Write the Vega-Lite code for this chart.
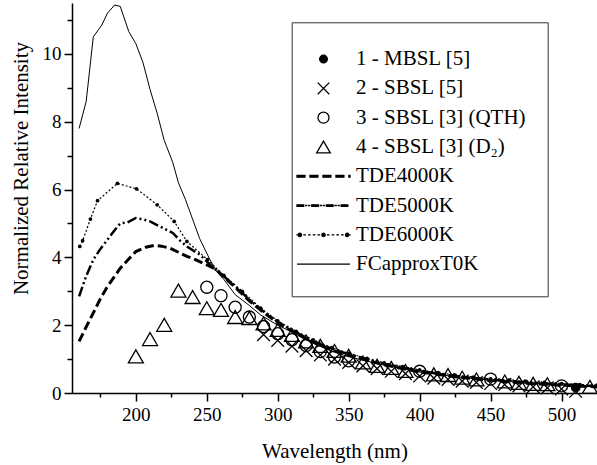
{
 "$schema": "https://vega.github.io/schema/vega-lite/v6.json",
 "width": 525, "height": 390,
 "autosize": {"type": "none"},
 "padding": {"left": 72, "top": 3, "right": 0, "bottom": 72},
 "background": "white",
 "config": {
  "font": "Liberation Serif",
  "view": {"stroke": null},
  "axis": {"grid": false, "domainColor": "black", "domainWidth": 1.5, "tickColor": "black", "tickWidth": 1.5, "labelFont": "Liberation Serif", "labelFontSize": 19, "labelColor": "black", "titleFont": "Liberation Serif", "titleFontSize": 21, "titleFontWeight": "normal", "titleColor": "black"}
 },
 "datasets": {
  "curves": [
   {"series": "FCapproxT0K", "wavelength": 160, "intensity": 7.8},
   {"series": "FCapproxT0K", "wavelength": 165, "intensity": 8.6},
   {"series": "FCapproxT0K", "wavelength": 170, "intensity": 10.5},
   {"series": "FCapproxT0K", "wavelength": 176, "intensity": 10.85},
   {"series": "FCapproxT0K", "wavelength": 180, "intensity": 11.2},
   {"series": "FCapproxT0K", "wavelength": 185, "intensity": 11.44},
   {"series": "FCapproxT0K", "wavelength": 189, "intensity": 11.4},
   {"series": "FCapproxT0K", "wavelength": 195, "intensity": 10.66},
   {"series": "FCapproxT0K", "wavelength": 200, "intensity": 10.3},
   {"series": "FCapproxT0K", "wavelength": 205, "intensity": 9.75},
   {"series": "FCapproxT0K", "wavelength": 210, "intensity": 8.95},
   {"series": "FCapproxT0K", "wavelength": 215, "intensity": 8.25},
   {"series": "FCapproxT0K", "wavelength": 220, "intensity": 7.45},
   {"series": "FCapproxT0K", "wavelength": 226, "intensity": 6.8},
   {"series": "FCapproxT0K", "wavelength": 230, "intensity": 6.2},
   {"series": "FCapproxT0K", "wavelength": 235, "intensity": 5.7},
   {"series": "FCapproxT0K", "wavelength": 245, "intensity": 4.55},
   {"series": "FCapproxT0K", "wavelength": 252, "intensity": 3.95},
   {"series": "FCapproxT0K", "wavelength": 257, "intensity": 3.58},
   {"series": "FCapproxT0K", "wavelength": 262, "intensity": 3.35},
   {"series": "FCapproxT0K", "wavelength": 270, "intensity": 2.9},
   {"series": "FCapproxT0K", "wavelength": 280, "intensity": 2.58},
   {"series": "FCapproxT0K", "wavelength": 288, "intensity": 2.3},
   {"series": "FCapproxT0K", "wavelength": 300, "intensity": 2.0},
   {"series": "FCapproxT0K", "wavelength": 310, "intensity": 1.8},
   {"series": "FCapproxT0K", "wavelength": 323, "intensity": 1.5},
   {"series": "FCapproxT0K", "wavelength": 340, "intensity": 1.2},
   {"series": "FCapproxT0K", "wavelength": 350, "intensity": 1.07},
   {"series": "FCapproxT0K", "wavelength": 375, "intensity": 0.82},
   {"series": "FCapproxT0K", "wavelength": 400, "intensity": 0.62},
   {"series": "FCapproxT0K", "wavelength": 425, "intensity": 0.48},
   {"series": "FCapproxT0K", "wavelength": 450, "intensity": 0.38},
   {"series": "FCapproxT0K", "wavelength": 475, "intensity": 0.3},
   {"series": "FCapproxT0K", "wavelength": 500, "intensity": 0.23},
   {"series": "FCapproxT0K", "wavelength": 525, "intensity": 0.18},

   {"series": "TDE4000K", "wavelength": 160, "intensity": 1.52},
   {"series": "TDE4000K", "wavelength": 165, "intensity": 1.95},
   {"series": "TDE4000K", "wavelength": 170, "intensity": 2.36},
   {"series": "TDE4000K", "wavelength": 175, "intensity": 2.78},
   {"series": "TDE4000K", "wavelength": 180, "intensity": 3.14},
   {"series": "TDE4000K", "wavelength": 189, "intensity": 3.68},
   {"series": "TDE4000K", "wavelength": 195, "intensity": 3.95},
   {"series": "TDE4000K", "wavelength": 200, "intensity": 4.17},
   {"series": "TDE4000K", "wavelength": 207, "intensity": 4.3},
   {"series": "TDE4000K", "wavelength": 213, "intensity": 4.35},
   {"series": "TDE4000K", "wavelength": 218, "intensity": 4.33},
   {"series": "TDE4000K", "wavelength": 224, "intensity": 4.27},
   {"series": "TDE4000K", "wavelength": 230, "intensity": 4.15},
   {"series": "TDE4000K", "wavelength": 236, "intensity": 4.03},
   {"series": "TDE4000K", "wavelength": 242, "intensity": 3.93},
   {"series": "TDE4000K", "wavelength": 248, "intensity": 3.82},
   {"series": "TDE4000K", "wavelength": 257, "intensity": 3.63},
   {"series": "TDE4000K", "wavelength": 262, "intensity": 3.42},
   {"series": "TDE4000K", "wavelength": 270, "intensity": 3.12},
   {"series": "TDE4000K", "wavelength": 280, "intensity": 2.72},
   {"series": "TDE4000K", "wavelength": 290, "intensity": 2.37},
   {"series": "TDE4000K", "wavelength": 300, "intensity": 2.07},
   {"series": "TDE4000K", "wavelength": 310, "intensity": 1.82},
   {"series": "TDE4000K", "wavelength": 320, "intensity": 1.6},
   {"series": "TDE4000K", "wavelength": 330, "intensity": 1.41},
   {"series": "TDE4000K", "wavelength": 340, "intensity": 1.25},
   {"series": "TDE4000K", "wavelength": 350, "intensity": 1.11},
   {"series": "TDE4000K", "wavelength": 375, "intensity": 0.83},
   {"series": "TDE4000K", "wavelength": 400, "intensity": 0.62},
   {"series": "TDE4000K", "wavelength": 425, "intensity": 0.48},
   {"series": "TDE4000K", "wavelength": 450, "intensity": 0.37},
   {"series": "TDE4000K", "wavelength": 475, "intensity": 0.29},
   {"series": "TDE4000K", "wavelength": 500, "intensity": 0.23},
   {"series": "TDE4000K", "wavelength": 525, "intensity": 0.18},

   {"series": "TDE5000K", "wavelength": 160, "intensity": 2.85},
   {"series": "TDE5000K", "wavelength": 165, "intensity": 3.45},
   {"series": "TDE5000K", "wavelength": 170, "intensity": 3.93},
   {"series": "TDE5000K", "wavelength": 175, "intensity": 4.25},
   {"series": "TDE5000K", "wavelength": 180, "intensity": 4.52},
   {"series": "TDE5000K", "wavelength": 185, "intensity": 4.8},
   {"series": "TDE5000K", "wavelength": 189, "intensity": 5.0},
   {"series": "TDE5000K", "wavelength": 194, "intensity": 5.03},
   {"series": "TDE5000K", "wavelength": 200, "intensity": 5.16},
   {"series": "TDE5000K", "wavelength": 205, "intensity": 5.12},
   {"series": "TDE5000K", "wavelength": 210, "intensity": 5.06},
   {"series": "TDE5000K", "wavelength": 217, "intensity": 4.91},
   {"series": "TDE5000K", "wavelength": 226, "intensity": 4.72},
   {"series": "TDE5000K", "wavelength": 231, "intensity": 4.5},
   {"series": "TDE5000K", "wavelength": 236, "intensity": 4.32},
   {"series": "TDE5000K", "wavelength": 245, "intensity": 4.08},
   {"series": "TDE5000K", "wavelength": 255, "intensity": 3.68},
   {"series": "TDE5000K", "wavelength": 262, "intensity": 3.44},
   {"series": "TDE5000K", "wavelength": 270, "intensity": 3.15},
   {"series": "TDE5000K", "wavelength": 280, "intensity": 2.75},
   {"series": "TDE5000K", "wavelength": 290, "intensity": 2.4},
   {"series": "TDE5000K", "wavelength": 300, "intensity": 2.1},
   {"series": "TDE5000K", "wavelength": 310, "intensity": 1.85},
   {"series": "TDE5000K", "wavelength": 320, "intensity": 1.63},
   {"series": "TDE5000K", "wavelength": 330, "intensity": 1.44},
   {"series": "TDE5000K", "wavelength": 340, "intensity": 1.28},
   {"series": "TDE5000K", "wavelength": 350, "intensity": 1.14},
   {"series": "TDE5000K", "wavelength": 375, "intensity": 0.86},
   {"series": "TDE5000K", "wavelength": 400, "intensity": 0.65},
   {"series": "TDE5000K", "wavelength": 425, "intensity": 0.5},
   {"series": "TDE5000K", "wavelength": 450, "intensity": 0.39},
   {"series": "TDE5000K", "wavelength": 475, "intensity": 0.31},
   {"series": "TDE5000K", "wavelength": 500, "intensity": 0.25},
   {"series": "TDE5000K", "wavelength": 525, "intensity": 0.2},

   {"series": "TDE6000K", "wavelength": 160.5, "intensity": 4.32},
   {"series": "TDE6000K", "wavelength": 162.5, "intensity": 4.49},
   {"series": "TDE6000K", "wavelength": 168, "intensity": 5.13},
   {"series": "TDE6000K", "wavelength": 173, "intensity": 5.67},
   {"series": "TDE6000K", "wavelength": 187, "intensity": 6.18},
   {"series": "TDE6000K", "wavelength": 200.5, "intensity": 6.02},
   {"series": "TDE6000K", "wavelength": 215, "intensity": 5.55},
   {"series": "TDE6000K", "wavelength": 227, "intensity": 5.06},
   {"series": "TDE6000K", "wavelength": 236, "intensity": 4.47},
   {"series": "TDE6000K", "wavelength": 250.5, "intensity": 3.93},
   {"series": "TDE6000K", "wavelength": 262, "intensity": 3.47},
   {"series": "TDE6000K", "wavelength": 275, "intensity": 3.0},
   {"series": "TDE6000K", "wavelength": 288, "intensity": 2.5},
   {"series": "TDE6000K", "wavelength": 300, "intensity": 2.13},
   {"series": "TDE6000K", "wavelength": 313, "intensity": 1.82},
   {"series": "TDE6000K", "wavelength": 325, "intensity": 1.57},
   {"series": "TDE6000K", "wavelength": 338, "intensity": 1.34},
   {"series": "TDE6000K", "wavelength": 350, "intensity": 1.17},
   {"series": "TDE6000K", "wavelength": 363, "intensity": 1.02},
   {"series": "TDE6000K", "wavelength": 375, "intensity": 0.89},
   {"series": "TDE6000K", "wavelength": 388, "intensity": 0.78},
   {"series": "TDE6000K", "wavelength": 400, "intensity": 0.68},
   {"series": "TDE6000K", "wavelength": 413, "intensity": 0.6},
   {"series": "TDE6000K", "wavelength": 425, "intensity": 0.53},
   {"series": "TDE6000K", "wavelength": 438, "intensity": 0.47},
   {"series": "TDE6000K", "wavelength": 450, "intensity": 0.42},
   {"series": "TDE6000K", "wavelength": 463, "intensity": 0.38},
   {"series": "TDE6000K", "wavelength": 475, "intensity": 0.34},
   {"series": "TDE6000K", "wavelength": 488, "intensity": 0.31},
   {"series": "TDE6000K", "wavelength": 500, "intensity": 0.28},
   {"series": "TDE6000K", "wavelength": 513, "intensity": 0.25},
   {"series": "TDE6000K", "wavelength": 525, "intensity": 0.23}
  ],
  "symbols": [
   {"series": "1 - MBSL [5]", "wavelength": 510, "intensity": 0.16},

   {"series": "2 - SBSL [5]", "wavelength": 290, "intensity": 1.72},
   {"series": "2 - SBSL [5]", "wavelength": 300, "intensity": 1.55},
   {"series": "2 - SBSL [5]", "wavelength": 310, "intensity": 1.38},
   {"series": "2 - SBSL [5]", "wavelength": 320, "intensity": 1.25},
   {"series": "2 - SBSL [5]", "wavelength": 330, "intensity": 1.12},
   {"series": "2 - SBSL [5]", "wavelength": 340, "intensity": 1.0},
   {"series": "2 - SBSL [5]", "wavelength": 350, "intensity": 0.9},
   {"series": "2 - SBSL [5]", "wavelength": 360, "intensity": 0.8},
   {"series": "2 - SBSL [5]", "wavelength": 370, "intensity": 0.72},
   {"series": "2 - SBSL [5]", "wavelength": 380, "intensity": 0.64},
   {"series": "2 - SBSL [5]", "wavelength": 390, "intensity": 0.57},
   {"series": "2 - SBSL [5]", "wavelength": 400, "intensity": 0.5},
   {"series": "2 - SBSL [5]", "wavelength": 410, "intensity": 0.44},
   {"series": "2 - SBSL [5]", "wavelength": 420, "intensity": 0.4},
   {"series": "2 - SBSL [5]", "wavelength": 430, "intensity": 0.35},
   {"series": "2 - SBSL [5]", "wavelength": 440, "intensity": 0.31},
   {"series": "2 - SBSL [5]", "wavelength": 450, "intensity": 0.28},
   {"series": "2 - SBSL [5]", "wavelength": 460, "intensity": 0.25},
   {"series": "2 - SBSL [5]", "wavelength": 470, "intensity": 0.21},
   {"series": "2 - SBSL [5]", "wavelength": 480, "intensity": 0.18},
   {"series": "2 - SBSL [5]", "wavelength": 490, "intensity": 0.15},
   {"series": "2 - SBSL [5]", "wavelength": 500, "intensity": 0.12},
   {"series": "2 - SBSL [5]", "wavelength": 510, "intensity": 0.05},

   {"series": "3 - SBSL [3] (QTH)", "wavelength": 250, "intensity": 3.12},
   {"series": "3 - SBSL [3] (QTH)", "wavelength": 260, "intensity": 2.87},
   {"series": "3 - SBSL [3] (QTH)", "wavelength": 270, "intensity": 2.53},
   {"series": "3 - SBSL [3] (QTH)", "wavelength": 280, "intensity": 2.24},
   {"series": "3 - SBSL [3] (QTH)", "wavelength": 290, "intensity": 1.96},
   {"series": "3 - SBSL [3] (QTH)", "wavelength": 300, "intensity": 1.75},
   {"series": "3 - SBSL [3] (QTH)", "wavelength": 310, "intensity": 1.57},
   {"series": "3 - SBSL [3] (QTH)", "wavelength": 320, "intensity": 1.4},
   {"series": "3 - SBSL [3] (QTH)", "wavelength": 330, "intensity": 1.22},
   {"series": "3 - SBSL [3] (QTH)", "wavelength": 340, "intensity": 1.06},
   {"series": "3 - SBSL [3] (QTH)", "wavelength": 350, "intensity": 0.95},
   {"series": "3 - SBSL [3] (QTH)", "wavelength": 400, "intensity": 0.64},
   {"series": "3 - SBSL [3] (QTH)", "wavelength": 450, "intensity": 0.41},
   {"series": "3 - SBSL [3] (QTH)", "wavelength": 500, "intensity": 0.21},

   {"series": "4 - SBSL [3] (D\u2082)", "wavelength": 200, "intensity": 1.08},
   {"series": "4 - SBSL [3] (D\u2082)", "wavelength": 210, "intensity": 1.59},
   {"series": "4 - SBSL [3] (D\u2082)", "wavelength": 220, "intensity": 2.01},
   {"series": "4 - SBSL [3] (D\u2082)", "wavelength": 230, "intensity": 3.02},
   {"series": "4 - SBSL [3] (D\u2082)", "wavelength": 240, "intensity": 2.83},
   {"series": "4 - SBSL [3] (D\u2082)", "wavelength": 250, "intensity": 2.5},
   {"series": "4 - SBSL [3] (D\u2082)", "wavelength": 260, "intensity": 2.45},
   {"series": "4 - SBSL [3] (D\u2082)", "wavelength": 270, "intensity": 2.24},
   {"series": "4 - SBSL [3] (D\u2082)", "wavelength": 280, "intensity": 2.21},
   {"series": "4 - SBSL [3] (D\u2082)", "wavelength": 290, "intensity": 2.05},
   {"series": "4 - SBSL [3] (D\u2082)", "wavelength": 300, "intensity": 1.86},
   {"series": "4 - SBSL [3] (D\u2082)", "wavelength": 310, "intensity": 1.71},
   {"series": "4 - SBSL [3] (D\u2082)", "wavelength": 320, "intensity": 1.52},
   {"series": "4 - SBSL [3] (D\u2082)", "wavelength": 330, "intensity": 1.39},
   {"series": "4 - SBSL [3] (D\u2082)", "wavelength": 340, "intensity": 1.24},
   {"series": "4 - SBSL [3] (D\u2082)", "wavelength": 350, "intensity": 1.1},
   {"series": "4 - SBSL [3] (D\u2082)", "wavelength": 360, "intensity": 0.9},
   {"series": "4 - SBSL [3] (D\u2082)", "wavelength": 370, "intensity": 0.8},
   {"series": "4 - SBSL [3] (D\u2082)", "wavelength": 380, "intensity": 0.74},
   {"series": "4 - SBSL [3] (D\u2082)", "wavelength": 390, "intensity": 0.65},
   {"series": "4 - SBSL [3] (D\u2082)", "wavelength": 410, "intensity": 0.55},
   {"series": "4 - SBSL [3] (D\u2082)", "wavelength": 420, "intensity": 0.53},
   {"series": "4 - SBSL [3] (D\u2082)", "wavelength": 430, "intensity": 0.45},
   {"series": "4 - SBSL [3] (D\u2082)", "wavelength": 440, "intensity": 0.4},
   {"series": "4 - SBSL [3] (D\u2082)", "wavelength": 460, "intensity": 0.34},
   {"series": "4 - SBSL [3] (D\u2082)", "wavelength": 470, "intensity": 0.3},
   {"series": "4 - SBSL [3] (D\u2082)", "wavelength": 480, "intensity": 0.27},
   {"series": "4 - SBSL [3] (D\u2082)", "wavelength": 490, "intensity": 0.26},
   {"series": "4 - SBSL [3] (D\u2082)", "wavelength": 520, "intensity": 0.18}
  ]
 },
 "resolve": {"axis": {"x": "independent", "y": "independent"}},
 "layer": [
  {
   "data": {"name": "curves"},
   "transform": [{"filter": "datum.series === 'FCapproxT0K'"}],
   "mark": {"type": "line", "color": "black", "strokeWidth": 1},
   "encoding": {
    "x": {"field": "wavelength", "type": "quantitative", "scale": {"domain": [155, 525], "nice": false, "zero": false},
     "axis": {"orient": "bottom", "values": [200, 250, 300, 350, 400, 450, 500], "tickSize": 8, "labelPadding": 4, "title": "Wavelength (nm)", "titlePadding": 16}},
    "y": {"field": "intensity", "type": "quantitative", "scale": {"domain": [0, 11.5], "nice": false},
     "axis": {"orient": "left", "values": [0, 2, 4, 6, 8, 10], "tickSize": 8, "labelPadding": 3, "title": "Normalized Relative Intensity", "titlePadding": 11, "titleY": 165}}
   }
  },
  {
   "data": {"name": "curves"},
   "transform": [{"filter": "datum.series === 'TDE4000K'"}],
   "mark": {"type": "line", "color": "black", "strokeWidth": 3, "strokeDash": [9, 4]},
   "encoding": {
    "x": {"field": "wavelength", "type": "quantitative", "axis": null},
    "y": {"field": "intensity", "type": "quantitative", "axis": null}
   }
  },
  {
   "data": {"name": "curves"},
   "transform": [{"filter": "datum.series === 'TDE5000K'"}],
   "mark": {"type": "line", "color": "black", "strokeWidth": 2.5, "strokeDash": [10, 3, 2, 3, 2, 3]},
   "encoding": {
    "x": {"field": "wavelength", "type": "quantitative", "axis": null},
    "y": {"field": "intensity", "type": "quantitative", "axis": null}
   }
  },
  {
   "data": {"name": "curves"},
   "transform": [{"filter": "datum.series === 'TDE6000K'"}],
   "mark": {"type": "line", "color": "black", "strokeWidth": 1.2, "strokeDash": [2, 2]},
   "encoding": {
    "x": {"field": "wavelength", "type": "quantitative", "axis": null},
    "y": {"field": "intensity", "type": "quantitative", "axis": null}
   }
  },
  {
   "data": {"name": "curves"},
   "transform": [{"filter": "datum.series === 'TDE6000K'"}],
   "mark": {"type": "circle", "color": "black", "size": 14, "opacity": 1},
   "encoding": {
    "x": {"field": "wavelength", "type": "quantitative",
     "axis": {"orient": "bottom", "values": [175, 225, 275, 325, 375, 425, 475], "tickSize": 4, "labels": false, "domain": false, "title": null}},
    "y": {"field": "intensity", "type": "quantitative",
     "axis": {"orient": "left", "values": [1, 3, 5, 7, 9, 11], "tickSize": 5, "labels": false, "domain": false, "title": null}}
   }
  },
  {
   "data": {"name": "symbols"},
   "mark": {"type": "point", "filled": false, "strokeWidth": 1.3, "opacity": 1, "size": 146},
   "encoding": {
    "x": {"field": "wavelength", "type": "quantitative", "axis": null},
    "y": {"field": "intensity", "type": "quantitative", "axis": null},
    "shape": {"field": "series", "type": "nominal",
     "scale": {"domain": ["1 - MBSL [5]", "2 - SBSL [5]", "3 - SBSL [3] (QTH)", "4 - SBSL [3] (D\u2082)", "TDE4000K", "TDE5000K", "TDE6000K", "FCapproxT0K"],
      "range": [
       "M-0.7,0A0.7,0.7,0,1,1,0.7,0A0.7,0.7,0,1,1,-0.7,0Z",
       "M-1.05,-1.05L1.05,1.05M-1.05,1.05L1.05,-1.05",
       "circle",
       "M0,-1.07L1.24,1.07L-1.24,1.07Z",
       "M-4.82,-0.16h1.45v0.32h-1.45zM-2.46,-0.16h1.45v0.32h-1.45zM-0.1,-0.16h1.45v0.32h-1.45zM2.26,-0.16h1.45v0.32h-1.45zM4.62,-0.16h0.2v0.32h-0.2z",
       "M-4.82,-0.14h1.2v0.28h-1.2zM-3.26,-0.02h0.2v0.04h-0.2zM-2.7,-0.02h0.2v0.04h-0.2zM-2.14,-0.14h1.2v0.28h-1.2zM-0.58,-0.02h0.2v0.04h-0.2zM-0.02,-0.02h0.2v0.04h-0.2zM0.54,-0.14h1.2v0.28h-1.2zM2.1,-0.02h0.2v0.04h-0.2zM2.66,-0.02h0.2v0.04h-0.2zM3.22,-0.14h1.2v0.28h-1.2z",
       "M-4.6,0A0.3,0.3,0,1,1,-4,0A0.3,0.3,0,1,1,-4.6,0ZM-0.3,0A0.3,0.3,0,1,1,0.3,0A0.3,0.3,0,1,1,-0.3,0ZM4,0A0.3,0.3,0,1,1,4.6,0A0.3,0.3,0,1,1,4,0ZM-4.82,-0.01h0.2v0.02h-0.2zM-3.565,-0.01h0.25v0.02h-0.25zM-2.705,-0.01h0.25v0.02h-0.25zM-1.845,-0.01h0.25v0.02h-0.25zM-0.985,-0.01h0.25v0.02h-0.25zM0.735,-0.01h0.25v0.02h-0.25zM1.595,-0.01h0.25v0.02h-0.25zM2.455,-0.01h0.25v0.02h-0.25zM3.315,-0.01h0.25v0.02h-0.25zM4.62,-0.01h0.2v0.02h-0.2z",
       "M-4.82,0H4.82"
      ]},
     "legend": {
      "orient": "none", "legendX": 219.7, "legendY": 19.3,
      "title": "\u00a0", "titleFontSize": 3, "titlePadding": 2,
      "padding": 21.3, "rowPadding": 7.3, "labelOffset": 22, "symbolOffset": 0,
      "strokeColor": "#333333", "symbolSize": 121, "symbolStrokeWidth": 1.3, "symbolStrokeColor": "black",
      "labelFont": "Liberation Serif", "labelFontSize": 21, "labelColor": "black", "labelLimit": 400
     }
    },
    "fill": {"field": "series", "type": "nominal",
     "scale": {"domain": ["1 - MBSL [5]", "2 - SBSL [5]", "3 - SBSL [3] (QTH)", "4 - SBSL [3] (D\u2082)", "TDE4000K", "TDE5000K", "TDE6000K", "FCapproxT0K"],
      "range": ["black", "transparent", "transparent", "transparent", "black", "black", "black", "black"]},
     "legend": {
      "orient": "none", "legendX": 219.7, "legendY": 19.3,
      "title": "\u00a0", "titleFontSize": 3, "titlePadding": 2,
      "padding": 21.3, "rowPadding": 7.3, "labelOffset": 22, "symbolOffset": 0,
      "strokeColor": "#333333", "symbolSize": 121, "symbolStrokeWidth": 1.3, "symbolStrokeColor": "black",
      "labelFont": "Liberation Serif", "labelFontSize": 21, "labelColor": "black", "labelLimit": 400
     }
    },
    "stroke": {"field": "series", "type": "nominal",
     "scale": {"domain": ["1 - MBSL [5]", "2 - SBSL [5]", "3 - SBSL [3] (QTH)", "4 - SBSL [3] (D\u2082)", "TDE4000K", "TDE5000K", "TDE6000K", "FCapproxT0K"],
      "range": ["black", "black", "black", "black", "black", "black", "black", "black"]},
     "legend": {
      "orient": "none", "legendX": 219.7, "legendY": 19.3,
      "title": "\u00a0", "titleFontSize": 3, "titlePadding": 2,
      "padding": 21.3, "rowPadding": 7.3, "labelOffset": 22, "symbolOffset": 0,
      "strokeColor": "#333333", "symbolSize": 121, "symbolStrokeWidth": 1.3, "symbolStrokeColor": "black",
      "labelFont": "Liberation Serif", "labelFontSize": 21, "labelColor": "black", "labelLimit": 400
     }
    }
   }
  }
 ]
}
